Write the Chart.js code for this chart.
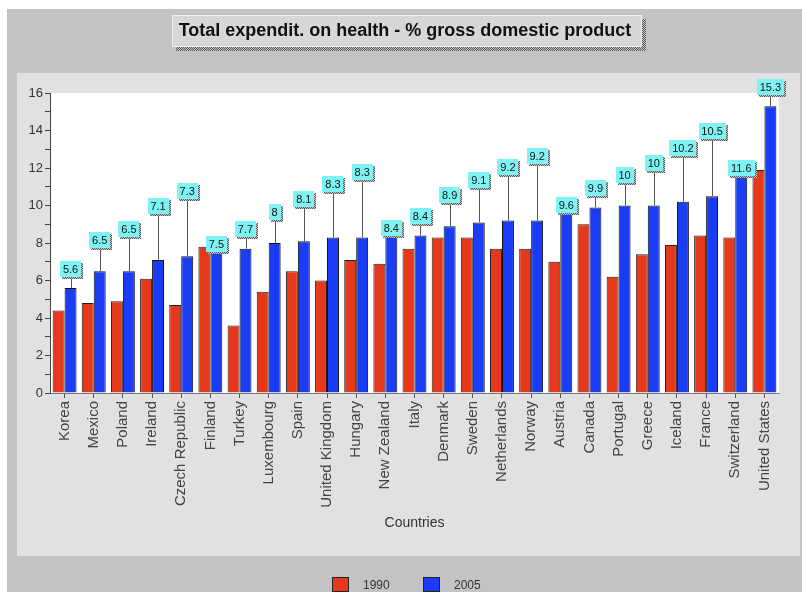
<!DOCTYPE html>
<html>
<head>
<meta charset="utf-8">
<script src="https://cdn.jsdelivr.net/npm/chart.js@4.4.1/dist/chart.umd.min.js"></script>
<style>
  body { margin: 0; background: #fff; overflow: hidden; }
  canvas { display: block; }
</style>
</head>
<body>
<canvas id="healthChart" width="802" height="592"></canvas>
<script>
// data
var countries = ['Korea', 'Mexico', 'Poland', 'Ireland', 'Czech Republic', 'Finland', 'Turkey',
    'Luxembourg', 'Spain', 'United Kingdom', 'Hungary', 'New Zealand', 'Italy', 'Denmark',
    'Sweden', 'Netherlands', 'Norway', 'Austria', 'Canada', 'Portugal', 'Greece', 'Iceland',
    'France', 'Switzerland', 'United States'];
var values1990 = [4.4, 4.8, 4.9, 6.1, 4.7, 7.8, 3.6, 5.4, 6.5, 6.0, 7.1, 6.9, 7.7, 8.3,
    8.3, 7.7, 7.7, 7.0, 9.0, 6.2, 7.4, 7.9, 8.4, 8.3, 11.9];
var values2005 = [5.6, 6.5, 6.5, 7.1, 7.3, 7.5, 7.7, 8.0, 8.1, 8.3, 8.3, 8.4, 8.4, 8.9,
    9.1, 9.2, 9.2, 9.6, 9.9, 10.0, 10.0, 10.2, 10.5, 11.6, 15.3];
var yTicks = [0, 2, 4, 6, 8, 10, 12, 14, 16];
var seriesNames = ['1990', '2005'];

var chartTitle = 'Total expendit. on health - % gross domestic product';
var FONT = "'Liberation Sans', Arial, sans-serif";

Chart.defaults.font.family = FONT;

// checkered shadow like the old chart tool draws
function shadowPattern(ctx) {
    var p = document.createElement('canvas');
    p.width = 2; p.height = 2;
    var pc = p.getContext('2d');
    pc.fillStyle = '#c8c8c8'; pc.fillRect(0, 0, 2, 2);
    pc.fillStyle = '#555'; pc.fillRect(0, 0, 1, 1); pc.fillRect(1, 1, 1, 1);
    return ctx.createPattern(p, 'repeat');
}

var decorPlugin = {
    id: 'decor',
    beforeDraw: function(chart) {
        var ctx = chart.ctx, a = chart.chartArea;
        ctx.save();
        ctx.fillStyle = '#ffffff';
        ctx.fillRect(0, 0, chart.width, chart.height);
        ctx.fillStyle = '#c3c3c3';
        ctx.fillRect(7, 9, chart.width - 7, chart.height - 9);
        ctx.fillStyle = '#e1e1e1';
        ctx.fillRect(17, 73, 783, 483);
        ctx.fillStyle = '#ffffff';
        ctx.fillRect(a.left, a.top, a.right - a.left, a.bottom - a.top);

        // title box
        var pat = shadowPattern(ctx);
        ctx.fillStyle = pat;
        ctx.fillRect(176, 19, 470, 32);
        ctx.fillStyle = '#d7d7d7';
        ctx.fillRect(172, 15, 470, 32);
        ctx.strokeStyle = '#f0f0f0';
        ctx.lineWidth = 1;
        ctx.strokeRect(172.5, 15.5, 469, 31);
        ctx.fillStyle = '#111';
        ctx.font = 'bold 18px ' + FONT;
        ctx.textAlign = 'center';
        ctx.textBaseline = 'middle';
        ctx.fillText(chartTitle, 405, 31);
        ctx.restore();
    },
    afterDatasetsDraw: function(chart) {
        var ctx = chart.ctx;
        var meta = chart.getDatasetMeta(1);
        var pat = shadowPattern(ctx);
        ctx.save();
        ctx.font = '11px ' + FONT;
        ctx.textAlign = 'center';
        ctx.textBaseline = 'middle';
        meta.data.forEach(function(bar, i) {
            var txt = String(values2005[i]);
            var level = (i + 1) % 6;
            var bottom = bar.y - level * 11.4;
            var w = Math.round(ctx.measureText(txt).width) + 6;
            var h = 16;
            var left = Math.round(bar.x - w / 2);
            var top = Math.round(bottom - h);
            if (level > 0) {
                ctx.strokeStyle = '#555';
                ctx.lineWidth = 1;
                ctx.beginPath();
                ctx.moveTo(Math.round(bar.x) + 0.5, bottom);
                ctx.lineTo(Math.round(bar.x) + 0.5, bar.y);
                ctx.stroke();
            }
            ctx.fillStyle = pat;
            ctx.fillRect(left + 2, top + 2, w, h);
            ctx.fillStyle = '#7ff3f3';
            ctx.fillRect(left, top, w, h);
            ctx.fillStyle = '#111';
            ctx.fillText(txt, bar.x, top + h / 2 + 1);
        });
        ctx.restore();
    },
    afterDraw: function(chart) {
        // legend at the bottom edge
        var ctx = chart.ctx;
        var xs = [332, 423];
        ctx.save();
        ctx.font = '12px ' + FONT;
        ctx.textBaseline = 'middle';
        ctx.textAlign = 'left';
        chart.data.datasets.forEach(function(ds, i) {
            ctx.fillStyle = ds.backgroundColor;
            ctx.fillRect(xs[i], 577, 17, 15);
            ctx.strokeStyle = '#222';
            ctx.lineWidth = 1;
            ctx.strokeRect(xs[i] + 0.5, 577.5, 16, 14);
            ctx.fillStyle = '#333';
            ctx.fillText(ds.label, xs[i] + 31, 586);
        });
        ctx.restore();
    }
};

var ctx = document.getElementById('healthChart').getContext('2d');
var healthChart = new Chart(ctx, {
    type: 'bar',
    data: {
        labels: countries,
        datasets: [{
            label: seriesNames[0],
            data: values1990,
            backgroundColor: '#e6381a',
            borderColor: '#222',
            borderWidth: 1
        }, {
            label: seriesNames[1],
            data: values2005,
            backgroundColor: '#1a3cf5',
            borderColor: '#111',
            borderWidth: 1
        }]
    },
    options: {
        responsive: false,
        animation: false,
        layout: { padding: { left: 17, right: 23, top: 93, bottom: 52 } },
        datasets: { bar: { categoryPercentage: 0.82, barPercentage: 1.0 } },
        plugins: {
            legend: { display: false },
            title: { display: false },
            tooltip: { enabled: false }
        },
        scales: {
            x: {
                grid: { offset: false, drawOnChartArea: false, drawTicks: true, tickLength: 5, color: '#555' },
                border: { display: true, color: '#777' },
                ticks: {
                    autoSkip: false, minRotation: 90, maxRotation: 90, padding: 3,
                    color: '#444', font: { size: 15 }
                },
                title: { display: true, text: 'Countries', color: '#333', font: { size: 14 }, padding: { top: 4, bottom: 8 } },
                afterFit: function(scale) { scale.height = 147; }
            },
            y: {
                min: 0, max: 16,
                grid: { drawOnChartArea: false, drawTicks: true, tickLength: 5, color: '#444' },
                border: { display: true, color: '#444' },
                ticks: {
                    stepSize: 1, padding: 2, color: '#333', font: { size: 13 },
                    callback: function(v) { return yTicks.indexOf(v) >= 0 ? v : ''; }
                },
                afterFit: function(scale) { scale.width = 33; }
            }
        }
    },
    plugins: [decorPlugin]
});
</script>
</body>
</html>
